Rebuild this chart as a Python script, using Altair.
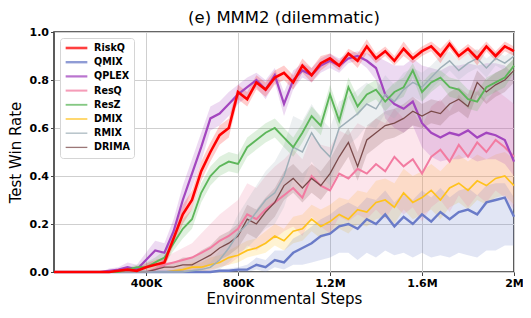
import altair as alt
import pandas as pd

# x positions: every 40K steps from 0 to 2M
steps = [i * 40000 for i in range(51)]

names = ["RiskQ", "QMIX", "QPLEX", "ResQ", "ResZ", "DMIX", "RMIX", "DRIMA"]
colors = ["#ff0000", "#6a7bc8", "#a346bf", "#f27ba1", "#5db65a", "#ffc21c", "#9eafb8", "#7a4a4a"]
widths = [2.6, 1.3, 1.3, 1.3, 1.3, 1.3, 1.3, 1.3]

riskq = [0, 0, 0, 0, 0, 0, 0, 0.005, 0.01, 0.005, 0.02, 0.03, 0.04, 0.14, 0.24, 0.30, 0.42, 0.50, 0.57, 0.60,
         0.75, 0.72, 0.79, 0.76, 0.81, 0.83, 0.79, 0.86, 0.82, 0.87, 0.89, 0.86, 0.91, 0.88, 0.94, 0.89, 0.92, 0.88, 0.93, 0.89,
         0.92, 0.94, 0.90, 0.95, 0.90, 0.93, 0.89, 0.94, 0.90, 0.94, 0.92]
qmix = [0, 0, 0, 0, 0, 0, 0, 0, 0, 0, 0, 0, 0, 0, 0, 0, 0, 0, 0.005, 0.005,
        0.01, 0.01, 0.03, 0.02, 0.05, 0.04, 0.08, 0.10, 0.12, 0.15, 0.16, 0.19, 0.20, 0.18, 0.22, 0.20, 0.24, 0.19, 0.23, 0.20,
        0.24, 0.21, 0.25, 0.22, 0.25, 0.26, 0.24, 0.29, 0.30, 0.31, 0.23]
qplex = [0, 0, 0, 0, 0, 0, 0.005, 0.01, 0.02, 0.01, 0.05, 0.09, 0.08, 0.17, 0.30, 0.41, 0.52, 0.64, 0.66, 0.70,
         0.74, 0.77, 0.80, 0.76, 0.82, 0.70, 0.80, 0.84, 0.82, 0.86, 0.88, 0.86, 0.89, 0.90, 0.88, 0.85, 0.74, 0.70, 0.68, 0.71,
         0.62, 0.58, 0.56, 0.58, 0.57, 0.59, 0.56, 0.58, 0.57, 0.55, 0.46]
resq = [0, 0, 0, 0, 0, 0, 0, 0, 0, 0, 0, 0.01, 0.03, 0.04, 0.05, 0.06, 0.08, 0.10, 0.13, 0.15,
        0.18, 0.24, 0.22, 0.26, 0.29, 0.32, 0.35, 0.31, 0.40, 0.36, 0.34, 0.41, 0.39, 0.43, 0.41, 0.45, 0.42, 0.48, 0.44, 0.47,
        0.41, 0.48, 0.51, 0.46, 0.53, 0.48, 0.54, 0.50, 0.55, 0.52, 0.48]
resz = [0, 0, 0, 0, 0, 0, 0, 0, 0.01, 0.02, 0.02, 0.04, 0.06, 0.12, 0.18, 0.22, 0.33, 0.40, 0.44, 0.46,
        0.45, 0.52, 0.55, 0.58, 0.60, 0.56, 0.52, 0.58, 0.65, 0.61, 0.74, 0.63, 0.77, 0.69, 0.74, 0.76, 0.71, 0.75, 0.77, 0.84,
        0.75, 0.79, 0.81, 0.77, 0.76, 0.72, 0.71, 0.77, 0.79, 0.81, 0.86]
dmix = [0, 0, 0, 0, 0, 0, 0, 0, 0, 0, 0, 0, 0, 0.005, 0.01, 0.02, 0.02, 0.03, 0.04, 0.06,
        0.07, 0.09, 0.10, 0.12, 0.15, 0.13, 0.17, 0.18, 0.22, 0.19, 0.21, 0.24, 0.22, 0.26, 0.25, 0.29, 0.30, 0.27, 0.33, 0.29,
        0.31, 0.34, 0.30, 0.35, 0.37, 0.34, 0.38, 0.36, 0.39, 0.40, 0.36]
rmix = [0, 0, 0, 0, 0, 0, 0, 0, 0, 0, 0, 0, 0, 0, 0, 0.005, 0.01, 0.02, 0.05, 0.10,
        0.16, 0.20, 0.25, 0.30, 0.33, 0.40, 0.52, 0.50, 0.58, 0.52, 0.48, 0.60, 0.63, 0.66, 0.70, 0.68, 0.74, 0.71, 0.76, 0.79,
        0.77, 0.81, 0.85, 0.88, 0.84, 0.87, 0.89, 0.85, 0.89, 0.87, 0.90]
drima = [0, 0, 0, 0, 0, 0, 0, 0, 0, 0, 0, 0.01, 0.02, 0.02, 0.03, 0.03, 0.05, 0.07, 0.10, 0.12,
         0.15, 0.22, 0.20, 0.25, 0.29, 0.36, 0.39, 0.35, 0.39, 0.36, 0.41, 0.48, 0.54, 0.44, 0.55, 0.58, 0.61, 0.62, 0.64, 0.67,
         0.65, 0.67, 0.66, 0.70, 0.72, 0.69, 0.79, 0.75, 0.78, 0.80, 0.84]

# band spreads (above / below the mean line)
riskq_sd = [0, 0, 0, 0, 0, 0, 0, 0.005, 0.01, 0.01, 0.015, 0.02, 0.02, 0.03, 0.04, 0.04, 0.04, 0.04, 0.04, 0.04,
            0.03, 0.03, 0.03, 0.03, 0.03, 0.03, 0.03, 0.03, 0.03, 0.03, 0.02, 0.02, 0.02, 0.03, 0.03, 0.02, 0.02, 0.02, 0.03, 0.02,
            0.02, 0.02, 0.03, 0.02, 0.02, 0.02, 0.03, 0.02, 0.02, 0.02, 0.02]
qmix_up = [0, 0, 0, 0, 0, 0, 0, 0, 0, 0, 0, 0, 0, 0, 0, 0, 0, 0, 0.005, 0.01,
           0.01, 0.02, 0.03, 0.03, 0.04, 0.05, 0.06, 0.06, 0.07, 0.07, 0.08, 0.08, 0.09, 0.09, 0.09, 0.10, 0.10, 0.10, 0.10, 0.10,
           0.10, 0.10, 0.10, 0.09, 0.09, 0.09, 0.08, 0.07, 0.07, 0.06, 0.08]
qmix_dn = [0, 0, 0, 0, 0, 0, 0, 0, 0, 0, 0, 0, 0, 0, 0, 0, 0, 0, 0.005, 0.005,
           0.01, 0.01, 0.02, 0.02, 0.03, 0.03, 0.05, 0.07, 0.08, 0.10, 0.10, 0.11, 0.12, 0.13, 0.14, 0.14, 0.15, 0.12, 0.15, 0.14,
           0.16, 0.15, 0.18, 0.16, 0.17, 0.19, 0.18, 0.20, 0.21, 0.20, 0.12]
qplex_up = [0, 0, 0, 0, 0, 0, 0.01, 0.01, 0.02, 0.02, 0.03, 0.04, 0.04, 0.05, 0.06, 0.06, 0.06, 0.05, 0.05, 0.05,
            0.04, 0.04, 0.03, 0.04, 0.03, 0.05, 0.04, 0.03, 0.03, 0.03, 0.03, 0.03, 0.02, 0.02, 0.03, 0.05, 0.14, 0.16, 0.18, 0.18,
            0.24, 0.27, 0.28, 0.28, 0.29, 0.28, 0.30, 0.29, 0.30, 0.31, 0.36]
qplex_dn = [0, 0, 0, 0, 0, 0, 0.005, 0.01, 0.02, 0.01, 0.03, 0.04, 0.04, 0.05, 0.06, 0.06, 0.06, 0.05, 0.05, 0.05,
            0.04, 0.04, 0.03, 0.04, 0.03, 0.05, 0.04, 0.03, 0.03, 0.03, 0.03, 0.03, 0.02, 0.02, 0.03, 0.05, 0.10, 0.10, 0.10, 0.10,
            0.10, 0.10, 0.10, 0.11, 0.10, 0.11, 0.10, 0.11, 0.10, 0.10, 0.06]
resq_sd = [0, 0, 0, 0, 0, 0, 0, 0, 0, 0, 0, 0.01, 0.03, 0.04, 0.05, 0.06, 0.08, 0.10, 0.11, 0.12,
           0.12, 0.13, 0.13, 0.14, 0.15, 0.15, 0.16, 0.16, 0.17, 0.17, 0.18, 0.18, 0.18, 0.19, 0.19, 0.19, 0.20, 0.20, 0.20, 0.20,
           0.20, 0.21, 0.21, 0.21, 0.21, 0.21, 0.22, 0.21, 0.21, 0.21, 0.22]
resz_sd = [0, 0, 0, 0, 0, 0, 0, 0, 0.01, 0.01, 0.02, 0.02, 0.03, 0.03, 0.04, 0.04, 0.04, 0.04, 0.04, 0.04,
           0.04, 0.04, 0.04, 0.04, 0.04, 0.04, 0.04, 0.04, 0.04, 0.04, 0.04, 0.04, 0.04, 0.04, 0.04, 0.04, 0.04, 0.04, 0.04, 0.03,
           0.04, 0.04, 0.03, 0.04, 0.04, 0.04, 0.04, 0.04, 0.04, 0.04, 0.03]
dmix_up = [0, 0, 0, 0, 0, 0, 0, 0, 0, 0, 0, 0, 0, 0.005, 0.01, 0.02, 0.02, 0.03, 0.03, 0.03,
           0.04, 0.04, 0.04, 0.05, 0.05, 0.05, 0.06, 0.06, 0.06, 0.07, 0.07, 0.07, 0.08, 0.08, 0.08, 0.09, 0.09, 0.10, 0.10, 0.11,
           0.11, 0.11, 0.12, 0.11, 0.12, 0.12, 0.11, 0.11, 0.10, 0.10, 0.11]
dmix_dn = [0, 0, 0, 0, 0, 0, 0, 0, 0, 0, 0, 0, 0, 0.005, 0.01, 0.01, 0.02, 0.02, 0.02, 0.03,
           0.03, 0.03, 0.03, 0.04, 0.04, 0.04, 0.05, 0.05, 0.05, 0.05, 0.05, 0.06, 0.06, 0.06, 0.06, 0.07, 0.07, 0.07, 0.07, 0.07,
           0.07, 0.08, 0.08, 0.08, 0.08, 0.08, 0.08, 0.08, 0.08, 0.08, 0.08]
rmix_sd = [0, 0, 0, 0, 0, 0, 0, 0, 0, 0, 0, 0, 0, 0, 0, 0.005, 0.01, 0.02, 0.04, 0.06,
           0.08, 0.10, 0.11, 0.12, 0.13, 0.13, 0.13, 0.13, 0.12, 0.12, 0.12, 0.11, 0.10, 0.10, 0.09, 0.08, 0.08, 0.07, 0.07, 0.06,
           0.06, 0.05, 0.05, 0.04, 0.04, 0.04, 0.04, 0.04, 0.03, 0.03, 0.03]
drima_sd = [0, 0, 0, 0, 0, 0, 0, 0, 0, 0, 0, 0.01, 0.02, 0.02, 0.03, 0.03, 0.04, 0.04, 0.05, 0.05,
            0.05, 0.06, 0.06, 0.06, 0.06, 0.06, 0.06, 0.06, 0.06, 0.06, 0.06, 0.06, 0.06, 0.06, 0.06, 0.06, 0.06, 0.06, 0.06, 0.06,
            0.05, 0.05, 0.05, 0.05, 0.05, 0.05, 0.05, 0.05, 0.05, 0.05, 0.05]

series = {
    "QMIX": (qmix, qmix_up, qmix_dn),
    "QPLEX": (qplex, qplex_up, qplex_dn),
    "ResQ": (resq, resq_sd, resq_sd),
    "ResZ": (resz, resz_sd, resz_sd),
    "DMIX": (dmix, dmix_up, dmix_dn),
    "RMIX": (rmix, rmix_sd, rmix_sd),
    "DRIMA": (drima, drima_sd, drima_sd),
    "RiskQ": (riskq, riskq_sd, riskq_sd),
}
draw_order = ["DMIX", "QMIX", "ResQ", "QPLEX", "DRIMA", "RMIX", "ResZ", "RiskQ"]

rows = []
for k, name in enumerate(draw_order):
    mean, up, dn = series[name]
    for x, m, u, d in zip(steps, mean, up, dn):
        rows.append({"step": x, "series": name, "rate": m,
                     "hi": min(m + u, 1.0), "lo": max(m - d, 0.0), "ord": k})
df = pd.DataFrame(rows)

FONT = "DejaVu Sans"
xscale = alt.Scale(domain=[0, 2000000], nice=False)
yscale = alt.Scale(domain=[0, 1], nice=False)
cscale = alt.Scale(domain=names, range=colors)

xaxis = alt.Axis(values=[400000, 800000, 1200000, 1600000, 2000000],
                 labelExpr="datum.value >= 1000000 ? format(datum.value/1000000, '.2~f') + 'M' : format(datum.value/1000, 'd') + 'K'",
                 title="Environmental Steps", labelFlush=False)
yaxis = alt.Axis(values=[0, 0.2, 0.4, 0.6, 0.8, 1.0], format=".1f", title="Test Win Rate")

legend = alt.Legend(title=None, orient="top-left", offset=6,
                    symbolType="stroke", symbolSize=470, symbolStrokeWidth=1.8, symbolOpacity=0.75,
                    labelFont=FONT, labelFontWeight="bold", labelFontSize=9.6,
                    labelColor="black", clipHeight=12, rowPadding=2.2,
                    padding=4, strokeColor="#d5d5d5", fillColor="white",
                    cornerRadius=3, labelOffset=5)

base = alt.Chart(df)

bands = base.mark_area(opacity=0.2, interpolate="linear").encode(
    x=alt.X("step:Q", scale=xscale, axis=xaxis),
    y=alt.Y("lo:Q", scale=yscale, axis=yaxis),
    y2="hi:Q",
    color=alt.Color("series:N", scale=cscale, legend=legend),
    detail="series:N",
    order="ord:Q",
)

lines = base.mark_line().encode(
    x=alt.X("step:Q", scale=xscale),
    y=alt.Y("rate:Q", scale=yscale),
    color=alt.Color("series:N", scale=cscale, legend=legend),
    strokeWidth=alt.StrokeWidth("series:N", scale=alt.Scale(domain=names, range=widths), legend=legend),
    order="ord:Q",
)

chart = alt.layer(bands, lines).properties(
    width=460, height=240,
    title=alt.TitleParams("(e) MMM2 (dilemmatic)", font=FONT, fontSize=16.5, fontWeight="normal",
                          color="black", anchor="middle", offset=0),
    autosize=alt.AutoSizeParams(type="none"),
    padding={"left": 46, "top": 24, "right": 9, "bottom": 38},
).configure_axis(
    labelFont=FONT, labelFontWeight="bold", labelFontSize=11, labelColor="black",
    titleFont=FONT, titleFontWeight="normal", titleFontSize=15, titleColor="black",
    grid=True, gridColor="#cfcfcf", gridWidth=1,
    domain=False, tickColor="#444444", tickSize=3.5, labelPadding=2,
).configure_axisX(titlePadding=3).configure_axisY(titlePadding=6).configure_view(
    stroke="#333333", strokeWidth=1.6
)

chart.save("out.html", embed_options={"renderer": "svg", "actions": False})
